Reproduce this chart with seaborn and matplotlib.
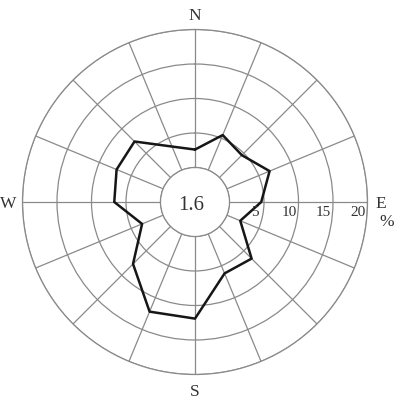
import numpy as np
import pandas as pd
import matplotlib
matplotlib.use("Agg")
import matplotlib.pyplot as plt
from matplotlib.transforms import offset_copy
import seaborn as sns

# Data: wind direction frequency (%)
directions = ["N", "NNE", "NE", "ENE", "E", "ESE", "SE", "SSE",
              "S", "SSW", "SW", "WSW", "W", "WNW", "NW", "NNW"]
frequency = [2.6, 5.5, 4.6, 6.7, 4.6, 2.1, 6.6, 6.2,
             11.9, 12.2, 7.7, 3.3, 6.7, 7.3, 7.4, 3.7]
calm = "1.6"
ring_values = [5, 10, 15, 20]
cardinal_labels = ["N", "E", "S", "W"]
unit_label = "%"

sns.set_style("white")
plt.rcParams["font.family"] = ["Liberation Serif", "DejaVu Serif"]

angles_deg = np.arange(len(directions)) * 22.5
theta = np.deg2rad(np.append(angles_deg, 360.0))
r = np.append(frequency, frequency[0])
df = pd.DataFrame({"theta": theta, "freq": r})

W, H = 403, 401
fig = plt.figure(figsize=(W / 100, H / 100), dpi=100)
cx, cy, rad = 195.0, 202.0, 172.5
ax = fig.add_axes([(cx - rad) / W, (H - cy - rad) / H, 2 * rad / W, 2 * rad / H],
                  projection="polar")
ax.set_theta_zero_location("N")
ax.set_theta_direction(-1)
ax.set_rorigin(-5)
ax.set_ylim(0, 20)

grid_col = "#8a8a8a"
ax.set_thetagrids(angles_deg, labels=[""] * len(angles_deg))
ax.set_rgrids([0] + ring_values, labels=[""] * (len(ring_values) + 1))
ax.grid(True, color=grid_col, linewidth=0.9)
for sp in ax.spines.values():
    sp.set_color(grid_col)
    sp.set_linewidth(0.9)

sns.lineplot(data=df, x="theta", y="freq", ax=ax, sort=False,
             color="#161616", linewidth=1.8, estimator=None)
ax.set_xlabel("")
ax.set_ylabel("")

# calm value at center
ax.text(0.49, 0.49, calm, transform=ax.transAxes, ha="center", va="center",
        fontsize=15, color="#333333")

# ring labels along the east axis
tr = offset_copy(ax.transData, fig=fig, x=0, y=-11, units="dots")
for v in ring_values:
    ax.text(np.pi / 2, v - 1.35, str(v), transform=tr, ha="center",
            va="center", fontsize=11, color="#333333")

# cardinal labels
pos = {"N": (195, 16.5), "E": (381, 204), "S": (195, 392), "W": (8.5, 204)}
for lab in cardinal_labels:
    x, y = pos[lab]
    fig.text(x / W, 1 - y / H, lab, ha="center", va="center",
             fontsize=12.5, color="#333333")
fig.text(387 / W, 1 - 222 / H, unit_label, ha="center", va="center",
         fontsize=12.5, color="#333333")

fig.savefig("out.png", dpi=100)
